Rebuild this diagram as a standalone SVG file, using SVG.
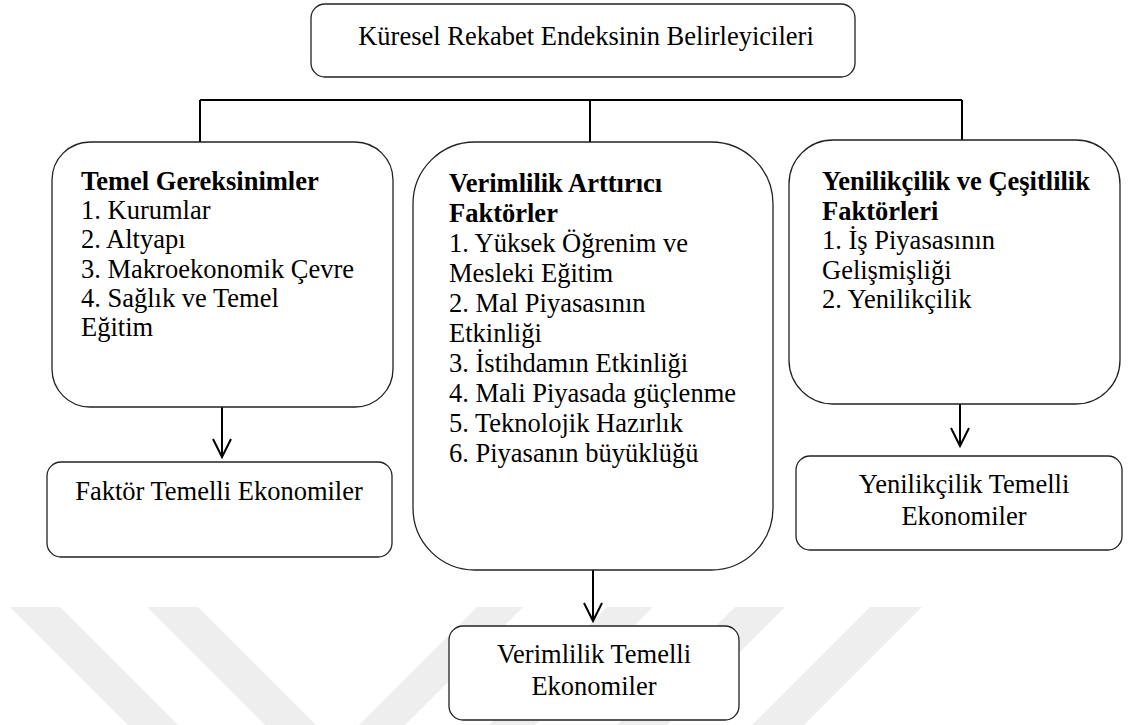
<svg xmlns="http://www.w3.org/2000/svg" width="1129" height="725" viewBox="0 0 1129 725">
  <style>
    .box { fill: #ffffff; stroke: #222222; stroke-width: 1.3; }
    .t { font-family: "Liberation Serif", "Times New Roman", serif; font-size: 26.5px; fill: #000000; }
    .b { font-weight: bold; }
    .c { text-anchor: middle; }
    .ln { stroke: #000000; stroke-width: 2; fill: none; }
    .wm { fill: #eeeeee; stroke: none; }
  </style>
  <defs>
    <marker id="arrow" markerUnits="userSpaceOnUse" viewBox="-20 -11 22 22" refX="0" refY="0" markerWidth="22" markerHeight="22" orient="auto" overflow="visible">
      <path d="M-18,-9 L0,0 L-18,9" fill="none" stroke="#000000" stroke-width="2"/>
    </marker>
  </defs>
  <rect x="0" y="0" width="1129" height="725" fill="#ffffff"/>
  <g id="watermark">
    <polygon class="wm" points="10,607 60,607 178,725 128,725"/>
    <polygon class="wm" points="147,607 198,607 316,725 265,725"/>
    <polygon class="wm" points="477,607 523,607 405,725 359,725"/>
    <polygon class="wm" points="607,607 653,607 535,725 489,725"/>
    <polygon class="wm" points="735,607 785,607 667,725 617,725"/>
    <polygon class="wm" points="870,607 922,607 804,725 752,725"/>
  </g>
  <g id="connectors">
    <path class="ln" d="M200,100 H962"/>
    <path class="ln" d="M200,100 V142"/>
    <path class="ln" d="M590,100 V142"/>
    <path class="ln" d="M962,100 V140"/>
    <path class="ln" d="M222,407 V457" marker-end="url(#arrow)"/>
    <path class="ln" d="M593,570 V621" marker-end="url(#arrow)"/>
    <path class="ln" d="M960,404 V446" marker-end="url(#arrow)"/>
  </g>
  <g id="node-root">
    <rect class="box" x="311" y="4" width="544" height="73" rx="14"/>
    <text class="t c" x="586" y="45">Küresel Rekabet Endeksinin Belirleyicileri</text>
  </g>
  <g id="node-temel">
    <rect class="box" x="52" y="142" width="341" height="265" rx="38"/>
    <text class="t" x="81" y="190"><tspan class="b">Temel Gereksinimler</tspan><tspan x="81" dy="29.2">1. Kurumlar</tspan><tspan x="81" dy="29.2">2. Altyapı</tspan><tspan x="81" dy="29.2">3. Makroekonomik Çevre</tspan><tspan x="81" dy="29.2">4. Sağlık ve Temel</tspan><tspan x="81" dy="29.2">Eğitim</tspan></text>
  </g>
  <g id="node-verimlilik">
    <rect class="box" x="413" y="142" width="360" height="428" rx="62"/>
    <text class="t" x="449" y="192"><tspan class="b">Verimlilik Arttırıcı</tspan><tspan class="b" x="449" dy="30">Faktörler</tspan><tspan x="449" dy="30">1. Yüksek Öğrenim ve</tspan><tspan x="449" dy="30">Mesleki Eğitim</tspan><tspan x="449" dy="30">2. Mal Piyasasının</tspan><tspan x="449" dy="30">Etkinliği</tspan><tspan x="449" dy="30">3. İstihdamın Etkinliği</tspan><tspan x="449" dy="30">4. Mali Piyasada güçlenme</tspan><tspan x="449" dy="30">5. Teknolojik Hazırlık</tspan><tspan x="449" dy="30">6. Piyasanın büyüklüğü</tspan></text>
  </g>
  <g id="node-yenilikcilik">
    <rect class="box" x="789" y="140" width="331" height="264" rx="44"/>
    <text class="t" x="822" y="190"><tspan class="b">Yenilikçilik ve Çeşitlilik</tspan><tspan class="b" x="822" dy="29.5">Faktörleri</tspan><tspan x="822" dy="29.5">1. İş Piyasasının</tspan><tspan x="822" dy="29.5">Gelişmişliği</tspan><tspan x="822" dy="29.5">2. Yenilikçilik</tspan></text>
  </g>
  <g id="node-faktor-ekonomiler">
    <rect class="box" x="47" y="462" width="345" height="95" rx="14"/>
    <text class="t c" x="219" y="500">Faktör Temelli Ekonomiler</text>
  </g>
  <g id="node-verimlilik-ekonomiler">
    <rect class="box" x="449" y="626" width="290" height="94" rx="14"/>
    <text class="t c" x="594" y="663">Verimlilik Temelli<tspan x="594" dy="32">Ekonomiler</tspan></text>
  </g>
  <g id="node-yenilikcilik-ekonomiler">
    <rect class="box" x="796" y="456" width="326" height="94" rx="14"/>
    <text class="t c" x="964" y="493">Yenilikçilik Temelli<tspan x="964" dy="32">Ekonomiler</tspan></text>
  </g>
</svg>
